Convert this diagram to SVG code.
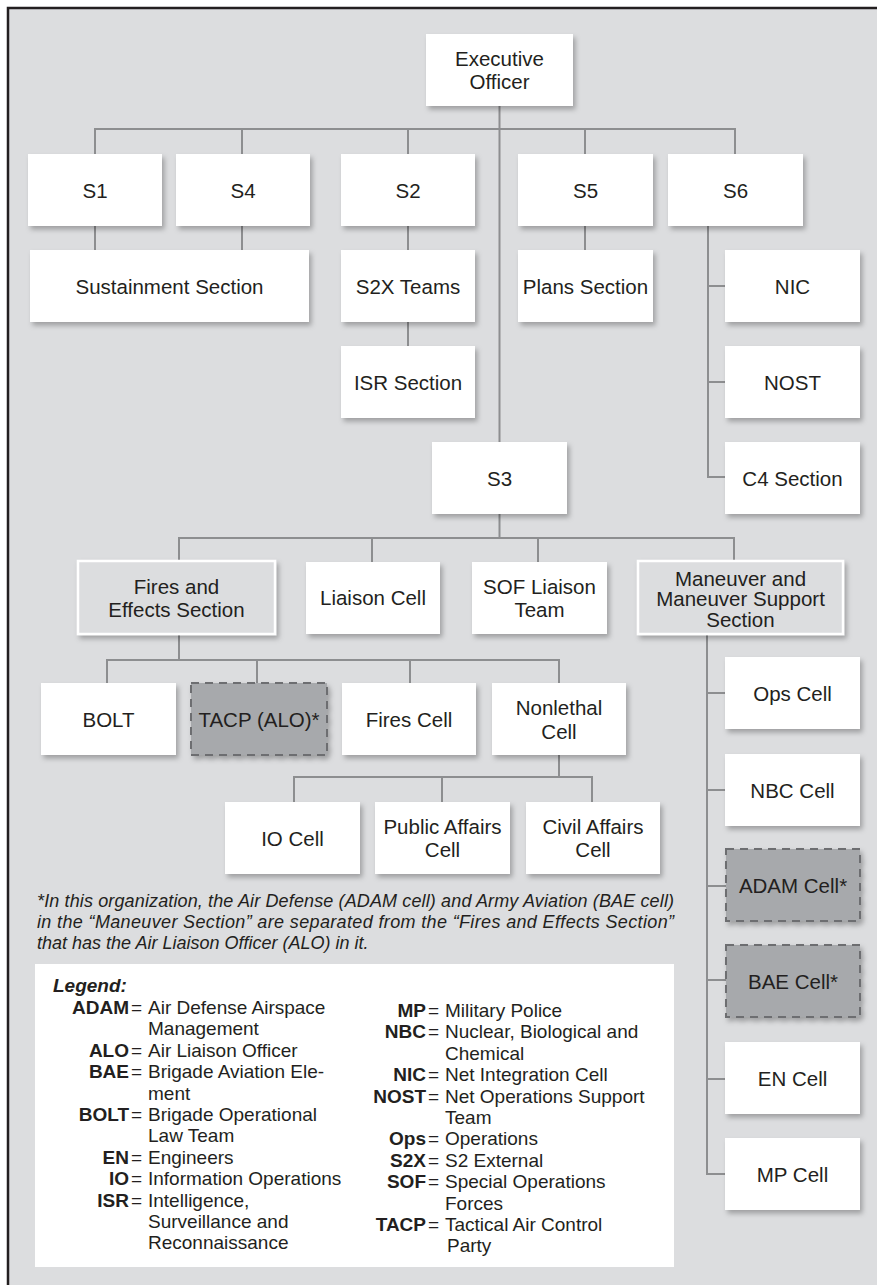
<svg xmlns="http://www.w3.org/2000/svg" width="877" height="1285" viewBox="0 0 877 1285">
<defs>
<style>
.bg{fill:#dcdddf}
.frame{fill:none;stroke:#231f20;stroke-width:2.5}
.box{fill:#ffffff;filter:url(#sh)}
.gbox{fill:#dcdddf;stroke:#ffffff;stroke-width:2.5;filter:url(#sh)}
.dbox{fill:#a7a9ac;stroke:#6d6e71;stroke-width:2;stroke-dasharray:8 6;filter:url(#sh)}
.lbl{font-family:"Liberation Sans",Arial,sans-serif;font-size:20.5px;fill:#231f20;text-anchor:middle}
.conn path{fill:none;stroke:#8d8e90;stroke-width:2}
.note{font-family:"Liberation Sans",Arial,sans-serif;font-size:18px;font-style:italic;fill:#231f20}
.lg{font-family:"Liberation Sans",Arial,sans-serif;font-size:19px;fill:#231f20}
.ab{font-weight:bold;text-anchor:end}
.ttl{font-weight:bold;font-style:italic}
</style>
<filter id="sh" x="-10%" y="-10%" width="130%" height="140%">
<feDropShadow dx="2.5" dy="3.5" stdDeviation="2.5" flood-color="#000000" flood-opacity="0.28"/>
</filter>
</defs>
<rect x="0" y="0" width="877" height="1285" fill="#ffffff"/>
<rect class="bg" x="8" y="8" width="869" height="1277"/>
<path class="frame" d="M8,1285 V8 H877"/>

<g class="conn" id="connectors">
<path d="M499.5,106 V442"/>
<path d="M95,154 V129 H735 V154"/>
<path d="M242,129 V154 M408,129 V154 M585,129 V154"/>
<path d="M95,226 V250 M242,226 V250"/>
<path d="M408,226 V250 M408,322 V346"/>
<path d="M585,226 V250"/>
<path d="M708,226 V477 H725 M708,286 H725 M708,382 H725"/>
<path d="M499.5,514 V538"/>
<path d="M179,562 V538 H734 V562 M372,538 V562 M538,538 V562"/>
<path d="M179,634 V660"/>
<path d="M107,683 V660 H559 V683 M257,660 V683 M410,660 V683"/>
<path d="M559,755 V777"/>
<path d="M294,802 V777 H592 V802 M442,777 V802"/>
<path d="M707,634 V1174 H725 M707,693 H725 M707,790 H725 M707,886 H726 M707,980 H726 M707,1079 H725"/>
</g>

<g id="executive-officer"><rect class="box" x="426" y="34" width="147" height="72"/><text class="lbl" x="499.5" y="66">Executive</text><text class="lbl" x="499.5" y="89">Officer</text></g>
<g id="s1"><rect class="box" x="28" y="154" width="134" height="72"/><text class="lbl" x="95" y="197.5">S1</text></g>
<g id="s4"><rect class="box" x="176" y="154" width="134" height="72"/><text class="lbl" x="243" y="197.5">S4</text></g>
<g id="s2"><rect class="box" x="341" y="154" width="134" height="72"/><text class="lbl" x="408" y="197.5">S2</text></g>
<g id="s5"><rect class="box" x="518" y="154" width="135" height="72"/><text class="lbl" x="585.5" y="197.5">S5</text></g>
<g id="s6"><rect class="box" x="668" y="154" width="135" height="72"/><text class="lbl" x="735.5" y="197.5">S6</text></g>
<g id="sustainment"><rect class="box" x="30" y="250" width="279" height="72"/><text class="lbl" x="169.5" y="293.5">Sustainment Section</text></g>
<g id="s2x"><rect class="box" x="341" y="250" width="134" height="72"/><text class="lbl" x="408" y="293.5">S2X Teams</text></g>
<g id="plans"><rect class="box" x="518" y="250" width="135" height="72"/><text class="lbl" x="585.5" y="293.5">Plans Section</text></g>
<g id="nic"><rect class="box" x="725" y="250" width="135" height="72"/><text class="lbl" x="792.5" y="293.5">NIC</text></g>
<g id="isr"><rect class="box" x="341" y="346" width="134" height="72"/><text class="lbl" x="408" y="389.5">ISR Section</text></g>
<g id="nost"><rect class="box" x="725" y="346" width="135" height="72"/><text class="lbl" x="792.5" y="389.5">NOST</text></g>
<g id="s3"><rect class="box" x="432" y="442" width="135" height="72"/><text class="lbl" x="499.5" y="485.5">S3</text></g>
<g id="c4"><rect class="box" x="725" y="442" width="135" height="72"/><text class="lbl" x="792.5" y="485.5">C4 Section</text></g>
<g id="fires-effects"><rect class="gbox" x="78" y="561" width="197" height="73"/><text class="lbl" x="176.5" y="594">Fires and</text><text class="lbl" x="176.5" y="617">Effects Section</text></g>
<g id="liaison"><rect class="box" x="306" y="562" width="134" height="72"/><text class="lbl" x="373" y="605">Liaison Cell</text></g>
<g id="sof-liaison"><rect class="box" x="472" y="562" width="135" height="72"/><text class="lbl" x="539.5" y="594">SOF Liaison</text><text class="lbl" x="539.5" y="617">Team</text></g>
<g id="maneuver"><rect class="gbox" x="638" y="561" width="205" height="73"/><text class="lbl" x="740.5" y="585.5">Maneuver and</text><text class="lbl" x="740.5" y="606">Maneuver Support</text><text class="lbl" x="740.5" y="626.5">Section</text></g>
<g id="bolt"><rect class="box" x="41" y="683" width="135" height="72"/><text class="lbl" x="108.5" y="726.5">BOLT</text></g>
<g id="tacp"><rect class="dbox" x="191" y="683" width="136" height="72"/><text class="lbl" x="259" y="726.5">TACP (ALO)*</text></g>
<g id="fires-cell"><rect class="box" x="342" y="683" width="134" height="72"/><text class="lbl" x="409" y="726.5">Fires Cell</text></g>
<g id="nonlethal"><rect class="box" x="492" y="683" width="134" height="72"/><text class="lbl" x="559" y="715">Nonlethal</text><text class="lbl" x="559" y="738.5">Cell</text></g>
<g id="io-cell"><rect class="box" x="225" y="802" width="135" height="72"/><text class="lbl" x="292.5" y="845.5">IO Cell</text></g>
<g id="public-affairs"><rect class="box" x="375" y="802" width="135" height="72"/><text class="lbl" x="442.5" y="833.5">Public Affairs</text><text class="lbl" x="442.5" y="856.5">Cell</text></g>
<g id="civil-affairs"><rect class="box" x="526" y="802" width="134" height="72"/><text class="lbl" x="593" y="833.5">Civil Affairs</text><text class="lbl" x="593" y="856.5">Cell</text></g>
<g id="ops-cell"><rect class="box" x="725" y="657" width="135" height="72"/><text class="lbl" x="792.5" y="700.5">Ops Cell</text></g>
<g id="nbc-cell"><rect class="box" x="725" y="754" width="135" height="72"/><text class="lbl" x="792.5" y="797.5">NBC Cell</text></g>
<g id="adam-cell"><rect class="dbox" x="726" y="849" width="134" height="72"/><text class="lbl" x="793" y="892.5">ADAM Cell*</text></g>
<g id="bae-cell"><rect class="dbox" x="726" y="945" width="134" height="72"/><text class="lbl" x="793" y="988.5">BAE Cell*</text></g>
<g id="en-cell"><rect class="box" x="725" y="1042" width="135" height="72"/><text class="lbl" x="792.5" y="1085.5">EN Cell</text></g>
<g id="mp-cell"><rect class="box" x="725" y="1138" width="135" height="72"/><text class="lbl" x="792.5" y="1181.5">MP Cell</text></g>

<g id="footnote">
<text class="note" x="37" y="907" textLength="637" lengthAdjust="spacing">*In this organization, the Air Defense (ADAM cell) and Army Aviation (BAE cell)</text>
<text class="note" x="37" y="928" textLength="637" lengthAdjust="spacing">in the “Maneuver Section” are separated from the “Fires and Effects Section”</text>
<text class="note" x="37" y="949">that has the Air Liaison Officer (ALO) in it.</text>
</g>

<g id="legend">
<rect x="35" y="964" width="639" height="303" fill="#ffffff"/>
<text class="lg ttl" x="53" y="992">Legend:</text>
<g>
<text class="lg ab" x="129" y="1014">ADAM</text><text class="lg" x="131" y="1014">=</text><text class="lg" x="148" y="1014">Air Defense Airspace</text>
<text class="lg" x="148" y="1035.4">Management</text>
<text class="lg ab" x="129" y="1056.8">ALO</text><text class="lg" x="131" y="1056.8">=</text><text class="lg" x="148" y="1056.8">Air Liaison Officer</text>
<text class="lg ab" x="129" y="1078.2">BAE</text><text class="lg" x="131" y="1078.2">=</text><text class="lg" x="148" y="1078.2">Brigade Aviation Ele-</text>
<text class="lg" x="148" y="1099.6">ment</text>
<text class="lg ab" x="129" y="1121">BOLT</text><text class="lg" x="131" y="1121">=</text><text class="lg" x="148" y="1121">Brigade Operational</text>
<text class="lg" x="148" y="1142.4">Law Team</text>
<text class="lg ab" x="129" y="1163.8">EN</text><text class="lg" x="131" y="1163.8">=</text><text class="lg" x="148" y="1163.8">Engineers</text>
<text class="lg ab" x="129" y="1185.2">IO</text><text class="lg" x="131" y="1185.2">=</text><text class="lg" x="148" y="1185.2">Information Operations</text>
<text class="lg ab" x="129" y="1206.6">ISR</text><text class="lg" x="131" y="1206.6">=</text><text class="lg" x="148" y="1206.6">Intelligence,</text>
<text class="lg" x="148" y="1228">Surveillance and</text>
<text class="lg" x="148" y="1249.4">Reconnaissance</text>
</g>
<g>
<text class="lg ab" x="426" y="1017">MP</text><text class="lg" x="428" y="1017">=</text><text class="lg" x="445" y="1017">Military Police</text>
<text class="lg ab" x="426" y="1038.4">NBC</text><text class="lg" x="428" y="1038.4">=</text><text class="lg" x="445" y="1038.4">Nuclear, Biological and</text>
<text class="lg" x="445" y="1059.8">Chemical</text>
<text class="lg ab" x="426" y="1081.2">NIC</text><text class="lg" x="428" y="1081.2">=</text><text class="lg" x="445" y="1081.2">Net Integration Cell</text>
<text class="lg ab" x="426" y="1102.6">NOST</text><text class="lg" x="428" y="1102.6">=</text><text class="lg" x="445" y="1102.6">Net Operations Support</text>
<text class="lg" x="445" y="1124">Team</text>
<text class="lg ab" x="426" y="1145.4">Ops</text><text class="lg" x="428" y="1145.4">=</text><text class="lg" x="445" y="1145.4">Operations</text>
<text class="lg ab" x="426" y="1166.8">S2X</text><text class="lg" x="428" y="1166.8">=</text><text class="lg" x="445" y="1166.8">S2 External</text>
<text class="lg ab" x="426" y="1188.2">SOF</text><text class="lg" x="428" y="1188.2">=</text><text class="lg" x="445" y="1188.2">Special Operations</text>
<text class="lg" x="445" y="1209.6">Forces</text>
<text class="lg ab" x="426" y="1231">TACP</text><text class="lg" x="428" y="1231">=</text><text class="lg" x="445" y="1231">Tactical Air Control</text>
<text class="lg" x="447" y="1252.4">Party</text>
</g>
</g>
</svg>
